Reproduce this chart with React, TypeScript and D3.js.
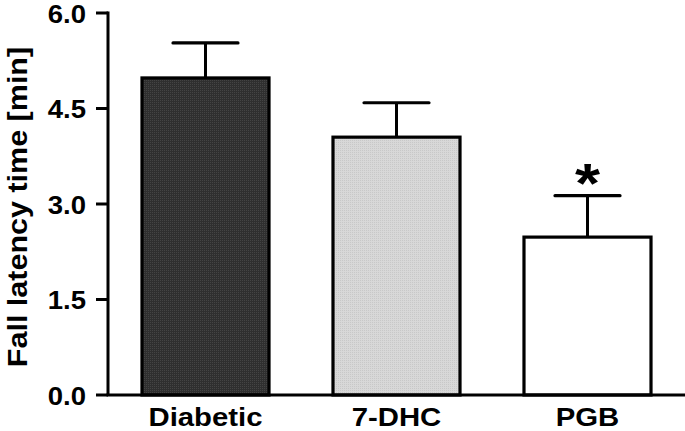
import React from "react";
import * as d3 from "d3";

const categories = ["Diabetic", "7-DHC", "PGB"];
const means = [4.98, 4.05, 2.48];
const sems = [0.55, 0.54, 0.65];
const fills = ["#393939", "#d3d3d3", "#ffffff"];
const significant = [false, false, true];
const yTicks = [0, 1.5, 3.0, 4.5, 6.0];

const W = 685;
const H = 431;
const x0 = 108;
const x1 = 685;
const yTop = 13;
const yBottom = 395;

export default function App() {
  const x = d3
    .scaleBand<string>()
    .domain(categories)
    .range([x0, x1])
    .paddingInner(0.335)
    .paddingOuter(0.178);
  const y = d3.scaleLinear().domain([0, 6]).range([yBottom, yTop]);
  const bw = x.bandwidth();
  const font = "'Liberation Sans', Arial, sans-serif";

  return (
    <svg
      width={W}
      height={H}
      style={{ position: "absolute", left: 0, top: 0, background: "#fff" }}
    >
      <defs>
        <pattern id="dots" width="2" height="2" patternUnits="userSpaceOnUse">
          <rect width="2" height="2" fill="#2f2f2f" />
          <rect width="1" height="1" fill="#444" />
        </pattern>
        <pattern id="dotsLight" width="2" height="2" patternUnits="userSpaceOnUse">
          <rect width="2" height="2" fill="#d8d8d8" />
          <rect width="1" height="1" fill="#c8c8c8" />
        </pattern>
      </defs>
      {categories.map((c, i) => {
        const bx = x(c)!;
        const cx = bx + bw / 2;
        const top = y(means[i]);
        const errTop = y(means[i] + sems[i]);
        const fill = i === 0 ? "url(#dots)" : i === 1 ? "url(#dotsLight)" : fills[i];
        return (
          <g key={c}>
            <line x1={cx} x2={cx} y1={top} y2={errTop} stroke="#000" strokeWidth={3} />
            <line
              x1={cx - 32.5}
              x2={cx + 32.5}
              y1={errTop}
              y2={errTop}
              stroke="#000"
              strokeWidth={3.2}
              strokeLinecap="round"
            />
            <rect
              x={bx}
              y={top}
              width={bw}
              height={yBottom - top}
              fill={fill}
              stroke="#000"
              strokeWidth={3.2}
            />
            {significant[i] && (
              <text
                transform={`translate(${cx},${errTop + 6}) scale(1.15,1)`}
                textAnchor="middle"
                fontFamily={font}
                fontWeight="bold"
                fontSize={56}
              >
                *
              </text>
            )}
            <text
              transform={`translate(${cx},${426}) scale(1.15,1)`}
              textAnchor="middle"
              fontFamily={font}
              fontWeight="bold"
              fontSize={25.5}
            >
              {c}
            </text>
          </g>
        );
      })}
      <line x1={x0} x2={x0} y1={yTop - 1.5} y2={yBottom} stroke="#000" strokeWidth={3} />
      <line x1={x0 - 1.5} x2={x1} y1={yBottom} y2={yBottom} stroke="#000" strokeWidth={3} />
      {yTicks.map((t) => (
        <g key={t}>
          <line x1={96} x2={x0} y1={y(t)} y2={y(t)} stroke="#000" strokeWidth={3} />
          <text
            transform={`translate(86,${y(t) + 9.5}) scale(1.1,1)`}
            textAnchor="end"
            fontFamily={font}
            fontWeight="bold"
            fontSize={25}
          >
            {t.toFixed(1)}
          </text>
        </g>
      ))}
      <text
        transform={`translate(27,207) rotate(-90) scale(1.09,1)`}
        textAnchor="middle"
        fontFamily={font}
        fontWeight="bold"
        fontSize={28}
      >
        Fall latency time [min]
      </text>
    </svg>
  );
}
